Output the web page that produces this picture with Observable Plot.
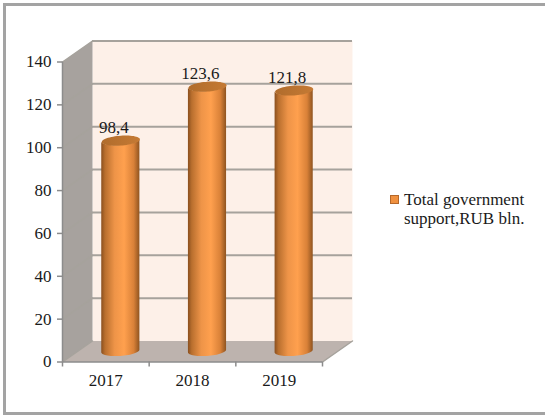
<!DOCTYPE html>
<html>
<head>
<meta charset="utf-8">
<script src="https://cdn.jsdelivr.net/npm/d3@7"></script>
<script src="https://cdn.jsdelivr.net/npm/@observablehq/plot@0.6"></script>
<style>
  html, body { margin: 0; padding: 0; background: #fff; }
  #chart { position: relative; width: 545px; height: 415px; overflow: hidden; }
  #chart svg { position: absolute; left: 0; top: 0; overflow: visible; }
  #border { position: absolute; left: 3px; top: 3px; right: 0; bottom: 0; border: solid #a3a3a3; border-width: 3px 0 3px 3px; }
  #legend { position: absolute; left: 390px; top: 190px; display: flex; align-items: flex-start;
            font: 17px/19px "Liberation Serif", serif; color: #1a1a1a; }
  #legend i { width: 7px; height: 7px; margin: 5px 5px 0 0; background: #f0913f; border: 1px solid #b5682a; flex: none; }
</style>
</head>
<body>
<div id="chart"><div id="border"></div></div>
<script>
// Annual figures
const years = ["2017", "2018", "2019"];
const support = [98.4, 123.6, 121.8];
const valueLabels = ["98,4", "123,6", "121,8"];
const yTicks = [0, 20, 40, 60, 80, 100, 120, 140];
const seriesName = ["Total government", "support,RUB bln."];

// Oblique depth of the box, in category units and in value units
const depthX = 0.346;
const depthY = 9.8;
const yMax = 140;
const n = years.length;

// Cylinder footprint, in the same units; tilt lifts the right side of each ellipse
const radiusX = 0.22;
const radiusY = 2.3;
const tilt = 0.6;
const center = i => i + 0.5 + depthX / 2;

const closed = pts => [...pts, pts[0]];
const polygon = (pts, fill, extra = {}) =>
  Plot.line(closed(pts), {x: "0", y: "1", fill, stroke: "none", ...extra});

// Ellipse samples for the cylinder caps
const angles = d3.range(0, 361, 6).map(d => d * Math.PI / 180);
const lowerAngles = d3.range(180, 361, 6).map(d => d * Math.PI / 180);
const rim = a => radiusY * Math.sin(a) + tilt * Math.cos(a);

function cylinder(value, i) {
  const cx = center(i);
  const base = depthY / 2;
  const top = base + value;
  const body = lowerAngles.map(a => ({
    x: cx + radiusX * Math.cos(a),
    y1: base + rim(a),
    y2: top + rim(a)
  }));
  const cap = angles.map(a => [cx + radiusX * Math.cos(a), top + rim(a)]);
  return [
    Plot.areaY(body, {x: "x", y1: "y1", y2: "y2", fill: "url(#cyl)", stroke: "none", curve: "linear"}),
    polygon(cap, "url(#capFill)")
  ];
}

const gradients = () => {
  const ns = "http://www.w3.org/2000/svg";
  const defs = document.createElementNS(ns, "defs");
  defs.innerHTML = `
    <linearGradient id="cyl" x1="0" x2="1" y1="0" y2="0">
      <stop offset="0" stop-color="#8a4f1e"/>
      <stop offset="0.1" stop-color="#b96f2e"/>
      <stop offset="0.35" stop-color="#ee9448"/>
      <stop offset="0.6" stop-color="#ffa04e"/>
      <stop offset="0.85" stop-color="#d98138"/>
      <stop offset="1" stop-color="#8f5420"/>
    </linearGradient>
    <linearGradient id="capFill" x1="0" x2="1" y1="0" y2="0">
      <stop offset="0" stop-color="#b06c2c"/>
      <stop offset="1" stop-color="#c57a34"/>
    </linearGradient>`;
  return defs;
};

const gridColor = "#a6a29c";
const font = "Liberation Serif, serif";

const plot = Plot.plot({
  width: 545,
  height: 415,
  marginLeft: 62,
  marginRight: 223,
  marginTop: 61.5,
  marginBottom: 53.5,
  x: {type: "linear", domain: [0, n], axis: null},
  y: {domain: [0, yMax], axis: null},
  style: {background: "transparent", fontFamily: font},
  marks: [
    gradients,
    // back wall
    polygon([[depthX, depthY], [n + depthX, depthY], [n + depthX, yMax + depthY], [depthX, yMax + depthY]], "#fdf0e8"),
    // side wall
    polygon([[0, 0], [depthX, depthY], [depthX, yMax + depthY], [0, yMax]], "#a7a29e"),
    // floor
    polygon([[0, 0], [n, 0], [n + depthX, depthY], [depthX, depthY]], "#bdb3ae"),
    // gridlines across the back wall and down the side wall
    Plot.ruleY(yTicks.filter(d => d > 0), {
      y: d => d + depthY, x1: depthX, x2: n + depthX, stroke: gridColor, strokeWidth: 2
    }),
    ...yTicks.map(t => Plot.line([[0, t], [depthX, t + depthY]], {x: "0", y: "1", stroke: gridColor, strokeWidth: 1.5})),
    Plot.line([[n, 0], [n + depthX, depthY]], {x: "0", y: "1", stroke: gridColor, strokeWidth: 1.5}),
    // axis lines
    Plot.ruleX([0], {y1: 0, y2: yMax, stroke: "#8c8c8c", strokeWidth: 1.5}),
    Plot.ruleY([0], {x1: 0, x2: n, stroke: "#8c8c8c", strokeWidth: 1.5}),
    Plot.axisY(yTicks, {
      anchor: "left", tickSize: 5, tickPadding: 6, stroke: "#8c8c8c", strokeWidth: 1.5,
      fontSize: 17, fill: "#1a1a1a", label: null, tickFormat: d => d
    }),
    Plot.axisX(d3.range(n + 1), {
      anchor: "bottom", tickSize: 5, stroke: "#8c8c8c", strokeWidth: 1.5, label: null, tickFormat: () => ""
    }),
    Plot.text(years, {
      x: (d, i) => i + 0.5, y: 0, dy: 19, text: d => d, fontSize: 17, fill: "#1a1a1a"
    }),
    // cylinders
    ...support.flatMap(cylinder),
    // value labels
    Plot.text(support, {
      x: (d, i) => center(i), y: d => d + depthY / 2, dx: -7, dy: -13,
      text: (d, i) => valueLabels[i], fontSize: 17, fill: "#1a1a1a"
    })
  ]
});
const chart = document.getElementById("chart");
chart.appendChild(plot);

// Series key to the right of the plot
const legend = document.createElement("div");
legend.id = "legend";
const swatch = document.createElement("i");
const label = document.createElement("div");
label.innerHTML = seriesName.join("<br>");
legend.append(swatch, label);
chart.appendChild(legend);
</script>
</body>
</html>
